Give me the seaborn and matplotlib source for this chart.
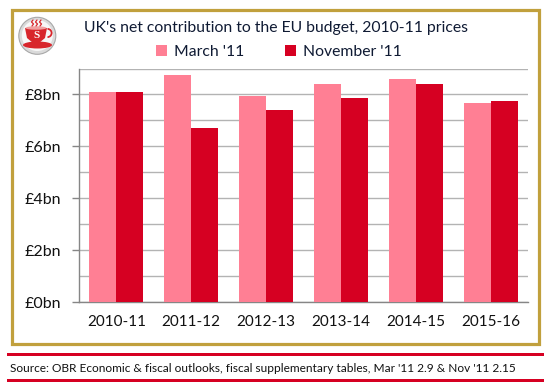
import matplotlib
matplotlib.use("Agg")
import matplotlib.pyplot as plt
from matplotlib.patches import Rectangle, Circle, Ellipse, Wedge, Polygon
import pandas as pd
import seaborn as sns

years = ["2010-11", "2011-12", "2012-13", "2013-14", "2014-15", "2015-16"]
march = [8.10, 8.76, 7.95, 8.42, 8.60, 7.68]
november = [8.10, 6.72, 7.41, 7.88, 8.42, 7.76]
series_names = ["March '11", "November '11"]
tick_values = [0, 2, 4, 6, 8]
tick_labels = ["£0bn", "£2bn", "£4bn", "£6bn", "£8bn"]
title = "UK's net contribution to the EU budget, 2010-11 prices"
source = "Source: OBR Economic & fiscal outlooks, fiscal supplementary tables, Mar '11 2.9 & Nov '11 2.15"

df = pd.DataFrame({
    "year": years * 2,
    "value": march + november,
    "series": [series_names[0]] * 6 + [series_names[1]] * 6,
})

W, H = 552, 390
RED, PINK, GOLD, INK = "#D60022", "#FF7F94", "#C1A03D", "#0F1A33"
sns.set_style("white")
plt.rcParams["font.family"] = ["Lato", "DejaVu Sans"]
fig = plt.figure(figsize=(W / 100, H / 100), dpi=100)
ax = fig.add_axes([79 / W, 1 - 302 / H, 449 / W, 233.5 / H])

sns.barplot(data=df, x="year", y="value", hue="series",
            palette=[PINK, RED], saturation=1, width=0.72, gap=0,
            linewidth=0, ax=ax, zorder=3)
ax.set_ylim(0, 9)
ax.set_xlim(-0.5, 5.5)
ax.set_xlabel("")
ax.set_ylabel("")
ax.set_yticks(tick_values)
ax.set_yticklabels(tick_labels, fontsize=11.5, color="#111111")
ax.set_yticks([v for v in range(10) if v not in tick_values], minor=True)
ax.tick_params(axis="y", which="major", left=True, length=5, width=1, color="#868686", pad=8)
ax.tick_params(axis="y", which="minor", length=0)
ax.tick_params(axis="x", length=0, pad=9, labelsize=11, labelcolor="#111111")
ax.grid(True, axis="y", which="both", color="#B3B3B3", lw=1, zorder=0)
ax.set_axisbelow(True)
sns.despine(ax=ax, top=True, right=True)
for s in ["left", "bottom"]:
    ax.spines[s].set_color("#868686")
    ax.spines[s].set_linewidth(1)

handles, labels = ax.get_legend_handles_labels()
ax.legend(handles, labels, ncol=2, frameon=False, fontsize=11.3,
          loc="center", bbox_to_anchor=(278.5 / W, 1 - 52 / H),
          bbox_transform=fig.transFigure, handlelength=0.7, handleheight=0.7,
          handletextpad=0.45, columnspacing=2.6, labelcolor=INK,
          borderpad=0, borderaxespad=0)

over = fig.add_axes([0, 0, 1, 1], zorder=10)
over.set_xlim(0, W)
over.set_ylim(H, 0)
over.axis("off")
over.patch.set_alpha(0)

# frame and footer rules
over.add_patch(Rectangle((11.7, 10), 527, 334.3, fc="none", ec=GOLD, lw=2.3, joinstyle="miter"))
over.add_patch(Rectangle((7, 352.8), 537, 3, fc=RED, ec="none"))
over.add_patch(Rectangle((7, 378.8), 537, 3, fc=RED, ec="none"))

# teacup logo
over.add_patch(Circle((37.3, 35.8), 18.5, fc="#DADADA", ec="#A8A8A8", lw=0.8))
over.add_patch(Circle((37.3, 35.5), 15.5, fc="#F7F7F7", ec="none"))
over.add_patch(Ellipse((37.5, 45), 29, 7, fc="#D8262C", ec="none"))
over.add_patch(Polygon([(25, 28), (47, 28), (45, 38), (39, 43), (33, 43), (27, 38)], fc="#D8262C", ec="none"))
over.add_patch(Wedge((47.5, 33), 5, -90, 90, width=1.8, fc="#D8262C", ec="none"))
over.add_patch(Ellipse((36, 28), 21, 3.5, fc="#F0A0A0", ec="none"))
over.text(37, 36, "S", fontsize=8, fontweight="bold", family="Liberation Serif", color="white", ha="center", va="center")
for x0 in (32, 36, 40):
    over.plot([x0, x0 + 1.5, x0 - 0.5, x0 + 1], [26, 24, 22, 20], color="#D8262C", lw=0.9)

over.text(84, 28, title, fontsize=11.3, va="center", ha="left", color=INK)
over.text(10, 368, source, fontsize=8.6, va="center", ha="left", color="#111111")

fig.savefig("out.png", dpi=100)
